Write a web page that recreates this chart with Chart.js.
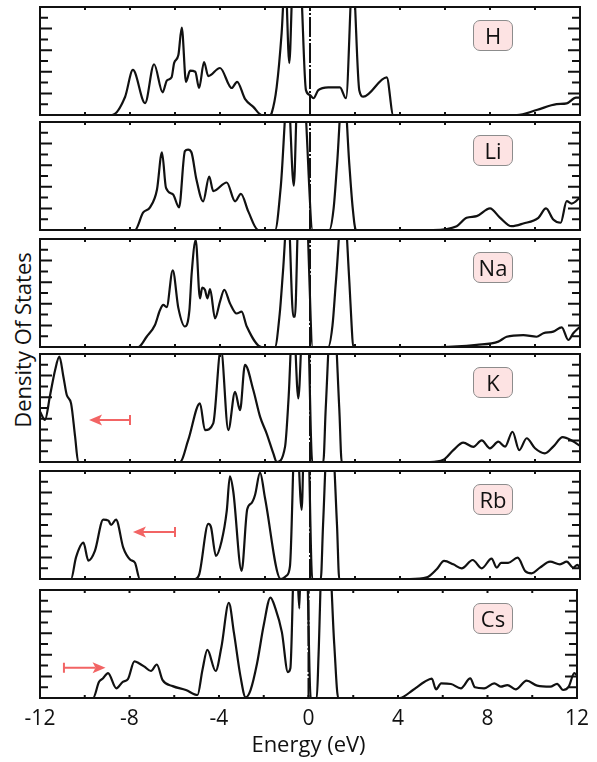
<!DOCTYPE html>
<html>
<head>
<meta charset="utf-8">
<script src="https://cdn.jsdelivr.net/npm/chart.js"></script>
<style>
  body { margin: 0; background: #fff; font-family: 'Open Sans', sans-serif; }
  #wrap { position: relative; width: 597px; height: 762px; overflow: hidden; background: #fff; }
  #wrap canvas { position: absolute; left: 0; }
  .tag { position: absolute; left: 473px; width: 40px; height: 31px; box-sizing: border-box;
         border: 1px solid #8c8c8c; border-radius: 7px; background: #fde3e3;
         font-size: 22px; line-height: 29px; text-align: center; color: #111; }
  #ylab { position: absolute; left: -78px; top: 327px; width: 200px; height: 26px; line-height: 26px;
          text-align: center; font-size: 22px; color: #111; transform: rotate(-90deg); white-space: nowrap; }
</style>
</head>
<body>
<div id="wrap">
  <div id="ylab">Density Of States</div>
</div>
<script>
// panel names (top to bottom)
let names = ['H', 'Li', 'Na', 'K', 'Rb', 'Cs'];

// energies (eV) and DOS (arb. units, axis runs 0..10, peaks above 10 are cut off)
let h_e   = [-12, -8.8, -8.22, -7.87, -7.33, -6.93, -6.55, -6.36, -6.15, -6.04, -5.85, -5.7, -5.51, -5.33, -5.1, -4.93, -4.71, -4.52, -4.0, -3.48, -3.24, -2.89, -2.52, -2.15, -1.78, -1.7, -1.48, -1.26, -1.1, -0.92, -0.75, -0.6, -0.45, -0.18, 0, 0.15, 0.37, 0.81, 1.33, 1.6, 1.9, 2.19, 2.37, 3.41, 3.7, 9.19, 10.07, 10.96, 11.41, 11.82, 12];
let h_dos = [0, 0, 1.67, 4.17, 1.1, 4.7, 2.1, 3.2, 3.5, 4.8, 5.55, 8.1, 3.07, 4.1, 4.0, 2.5, 4.9, 3.6, 4.35, 2.5, 3.07, 1.5, 0.75, 0, 0, 0.2, 2.6, 7.6, 13, 4.8, 13, 12, 13, 2.3, 1.85, 1.55, 2.3, 2.56, 2.56, 1.55, 13, 2.3, 1.7, 3.49, 0, 0, 0.46, 1.0, 1.08, 1.6, 1.6];

let li_e   = [-12, -7.78, -7.42, -7.11, -6.8, -6.58, -6.4, -6.09, -5.82, -5.56, -5.42, -5.27, -5.05, -4.75, -4.48, -4.3, -3.7, -3.33, -3.07, -2.74, -2.3, -1.55, -1.3, -0.98, -0.72, -0.55, -0.35, -0.3, 0.12, 0.86, 1.05, 1.2, 1.48, 1.75, 1.9, 2.04, 5.47, 6.52, 6.96, 7.41, 8.0, 8.44, 8.96, 9.48, 10.15, 10.49, 10.81, 11.14, 11.41, 11.63, 12];
let li_dos = [0, 0, 1.6, 2.1, 3.75, 7.2, 3.9, 3.3, 2.1, 7.3, 7.45, 7.2, 4.7, 2.65, 4.95, 3.6, 4.4, 2.65, 3.35, 1.7, 0, 0, 4, 13, 4.1, 13, 12, 13, 0, 0, 2, 6, 14, 6, 2, 0, 0, 0.35, 1.13, 1.28, 2.0, 1.15, 0.35, 0.6, 1.13, 2.0, 0.97, 0.67, 2.67, 2.45, 3.0];

let na_e   = [-12, -7.63, -7.26, -6.89, -6.67, -6.52, -6.37, -6.1, -5.85, -5.56, -5.36, -5.26, -5.08, -4.89, -4.79, -4.67, -4.56, -4.44, -4.22, -4.0, -3.81, -3.56, -3.26, -3.04, -2.81, -2.15, -1.56, -1.35, -1.2, -0.98, -0.74, -0.67, -0.5, -0.3, -0.18, 0.12, 0.81, 1.0, 1.15, 1.48, 1.75, 1.85, 1.92, 5.78, 7.41, 8.37, 8.74, 9.48, 10.07, 10.37, 10.81, 11.19, 11.48, 11.7, 12];
let na_dos = [0, 0, 0.95, 2.04, 3.4, 3.9, 3.7, 7.1, 3.6, 1.9, 3.4, 6.8, 9.9, 4.5, 5.5, 5.3, 4.5, 5.35, 2.65, 4.2, 5.3, 4.05, 3.1, 3.27, 1.9, 0, 0, 3, 7, 13, 2.8, 2.8, 13, 12, 13, 0, 0, 2, 6, 14, 6, 2, 0, 0, 0.2, 0.5, 0.95, 1.1, 0.95, 1.27, 1.42, 1.82, 0.65, 1.27, 1.88];

let k_e   = [-12, -11.78, -11.55, -11.33, -11.14, -10.96, -10.81, -10.62, -10.44, -10.3, -5.78, -5.41, -4.89, -4.67, -4.3, -3.96, -3.63, -3.33, -3.11, -2.89, -2.52, -2.22, -1.93, -1.63, -1.48, -1.11, -0.95, -0.75, -0.52, -0.3, -0.12, 0.1, 0.59, 0.7, 0.95, 1.05, 1.3, 1.41, 5.33, 5.93, 6.37, 6.81, 7.26, 7.63, 8.0, 8.37, 8.67, 9.0, 9.3, 9.63, 10.0, 10.44, 10.81, 11.23, 11.63, 11.85, 12];
let k_dos = [4.66, 3.9, 6.2, 8.5, 9.75, 7.9, 6.2, 5.43, 2.34, 0, 0, 2.04, 5.43, 2.96, 3.58, 10.5, 2.96, 6.5, 4.8, 9.0, 6.67, 4.2, 2.66, 0.8, 0, 1.4, 6, 14, 5.9, 14, 14, 0, 0, 5, 14, 14, 5, 0, 0, 0.2, 1.1, 1.8, 1.4, 2.0, 1.27, 1.88, 1.42, 2.8, 1.1, 2.2, 1.27, 0.8, 1.42, 2.3, 2.0, 1.7, 1.5];

let rb_e   = [-12, -10.62, -10.4, -10.07, -9.85, -9.56, -9.19, -8.96, -8.84, -8.62, -8.3, -8.0, -7.78, -7.56, -5.11, -4.92, -4.52, -4.4, -4.18, -3.93, -3.7, -3.56, -3.41, -3.04, -2.79, -2.59, -2.44, -2.22, -2.0, -1.3, -1.05, -0.89, -0.66, -0.6, -0.37, -0.25, -0.1, 0.1, 0.48, 0.58, 0.8, 0.95, 1.2, 1.3, 4.44, 5.19, 5.63, 5.96, 6.37, 6.74, 7.23, 7.63, 8.07, 8.3, 8.49, 8.81, 9.23, 9.56, 9.85, 10.22, 10.67, 11.11, 11.41, 11.7, 11.88, 12];
let rb_dos = [0, 0, 2.0, 3.36, 1.7, 2.6, 5.5, 5.4, 5.0, 5.5, 2.9, 1.8, 1.5, 0, 0, 0.45, 5.1, 4.8, 2.15, 3.5, 6.3, 9.5, 8.1, 0.75, 6.45, 7.05, 7.8, 9.85, 7.5, 0, 0.3, 1.2, 14, 14, 6.4, 14, 14, 0, 0, 5, 14, 14, 5, 0, 0, 0.15, 0.9, 1.67, 1.36, 0.99, 1.76, 0.99, 1.88, 1.05, 1.5, 1.5, 1.97, 0.75, 0.53, 1.05, 1.6, 1.36, 1.6, 1.05, 1.3, 1.0];

let cs_e   = [-12, -9.63, -9.36, -9.19, -8.96, -8.59, -8.3, -8.07, -7.78, -7.56, -7.33, -7.04, -6.78, -6.52, -6.07, -5.48, -4.96, -4.74, -4.52, -4.15, -3.89, -3.56, -3.33, -3.04, -2.81, -2.59, -2.3, -2.0, -1.7, -1.48, -1.19, -0.92, -0.81, -0.62, -0.5, -0.41, -0.33, -0.1, 0.1, 0.37, 0.45, 0.62, 0.9, 1.15, 1.33, 4.07, 4.67, 5.19, 5.51, 5.7, 5.93, 6.37, 6.81, 7.23, 7.44, 7.85, 8.3, 8.59, 8.89, 9.26, 9.75, 10.22, 10.81, 11.11, 11.38, 11.63, 11.88, 12];
let cs_dos = [0, 0, 1.5, 1.8, 2.3, 0.9, 1.5, 1.75, 3.4, 3.2, 2.9, 2.5, 3.1, 1.65, 1.1, 0.74, 0.28, 2.6, 4.45, 2.5, 4.75, 8.8, 6.0, 2.0, 0.06, 0.74, 3.2, 6.76, 9.3, 8.3, 6.1, 2.4, 2.75, 14, 12, 8.3, 14, 14, 0, 0, 4, 14, 14, 5, 0, 0, 0.74, 1.5, 1.8, 0.8, 1.36, 1.3, 0.9, 1.82, 0.99, 0.9, 1.36, 1.05, 1.2, 0.8, 1.6, 1.14, 1.05, 1.3, 0.74, 1.05, 2.3, 2.1];

let energy = [h_e, li_e, na_e, k_e, rb_e, cs_e];
let dos = [h_dos, li_dos, na_dos, k_dos, rb_dos, cs_dos];

// red arrows (panel index, tail energy, head energy, DOS level)
let arrow_panel = [3, 4, 5];
let arrow_tail  = [-8.0, -6.0, -10.93];
let arrow_head  = [-9.82, -7.87, -9.07];
let arrow_level = [3.9, 4.35, 2.8];

// Fermi level marker
let fermi_x = [0, 0];
let fermi_y = [0, 10];

let panel_top = [7, 122, 239, 354, 471, 590];
let wrap = document.getElementById('wrap');

let frame_plugin = {
    id: 'frame',
    afterDatasetsDraw(chart, args, opts) {
        let ctx = chart.ctx;
        let a = chart.chartArea;
        let xs = chart.scales.x;
        let ys = chart.scales.y;
        ctx.save();
        ctx.strokeStyle = '#111';
        ctx.lineWidth = 2;
        ctx.beginPath();
        for (let e = -10; e <= 10; e += 2) {
            let px = xs.getPixelForValue(e);
            ctx.moveTo(px, a.top); ctx.lineTo(px, a.top + 3);
            ctx.moveTo(px, a.bottom); ctx.lineTo(px, a.bottom - 3);
        }
        for (let v = 1; v <= 9; v++) {
            let py = ys.getPixelForValue(v);
            let len = (v % 2 == 0) ? 12 : 8;
            ctx.moveTo(a.left, py); ctx.lineTo(a.left + len, py);
            ctx.moveTo(a.right, py); ctx.lineTo(a.right - len, py);
        }
        ctx.stroke();
        ctx.strokeRect(a.left, a.top, a.width, a.height);

        // arrows
        ctx.strokeStyle = '#f26464';
        ctx.fillStyle = '#f26464';
        for (let k = 0; k < arrow_panel.length; k++) {
            if (arrow_panel[k] != opts.panel) continue;
            let x0 = xs.getPixelForValue(arrow_tail[k]);
            let x1 = xs.getPixelForValue(arrow_head[k]);
            let y = ys.getPixelForValue(arrow_level[k]);
            let dir = x1 > x0 ? 1 : -1;
            ctx.beginPath();
            ctx.moveTo(x0, y); ctx.lineTo(x1 - dir * 10, y);
            ctx.moveTo(x0, y - 5); ctx.lineTo(x0, y + 5);
            ctx.stroke();
            ctx.beginPath();
            ctx.moveTo(x1, y);
            ctx.lineTo(x1 - dir * 13, y - 5.5);
            ctx.lineTo(x1 - dir * 10, y);
            ctx.lineTo(x1 - dir * 13, y + 5.5);
            ctx.closePath();
            ctx.fill();
        }
        ctx.restore();
    }
};

function make_panel(idx) {
    let top = panel_top[idx];
    let last = idx == names.length - 1;
    let cv = document.createElement('canvas');
    let h = last ? 762 - (top - 4) : 116;
    cv.width = 597;
    cv.height = h;
    cv.style.top = (top - 4) + 'px';
    wrap.appendChild(cv);

    let pts = energy[idx].map((e, i) => ({ x: e, y: dos[idx][i] }));
    let fermi = fermi_x.map((e, i) => ({ x: e, y: fermi_y[i] }));

    let x_opts = {
        type: 'linear', min: -12, max: 12, display: last,
        grid: { display: false, drawTicks: false },
        border: { display: false },
        ticks: { stepSize: 4, color: '#111', padding: 8, maxRotation: 0,
                 font: { family: 'Open Sans', size: 21 } },
        title: { display: true, text: 'Energy (eV)', color: '#111',
                 font: { family: 'Open Sans', size: 22 }, padding: { top: 0, bottom: 3 } }
    };
    if (last) {
        x_opts.afterFit = (s) => { s.height = 64; };
    }

    new Chart(cv, {
        type: 'scatter',
        data: {
            datasets: [
                { data: pts, showLine: true, borderColor: '#111', borderWidth: 2.2, pointRadius: 0,
                  cubicInterpolationMode: 'monotone' },
                { data: fermi, showLine: true, borderColor: '#111', borderWidth: 2, borderDash: [20, 2, 2, 2], pointRadius: 0 }
            ]
        },
        options: {
            responsive: false,
            animation: false,
            events: [],
            layout: { padding: { left: 40, right: 17, top: 4, bottom: last ? 0 : 4 } },
            scales: {
                x: x_opts,
                y: { min: 0, max: 10, display: false }
            },
            plugins: {
                legend: { display: false },
                tooltip: { enabled: false },
                frame: { panel: idx }
            }
        },
        plugins: [frame_plugin]
    });

    let tag = document.createElement('div');
    tag.className = 'tag';
    tag.style.top = (top + 13) + 'px';
    tag.innerText = names[idx];
    wrap.appendChild(tag);
}

for (let i = 0; i < names.length; i++) make_panel(i);
</script>
</body>
</html>
